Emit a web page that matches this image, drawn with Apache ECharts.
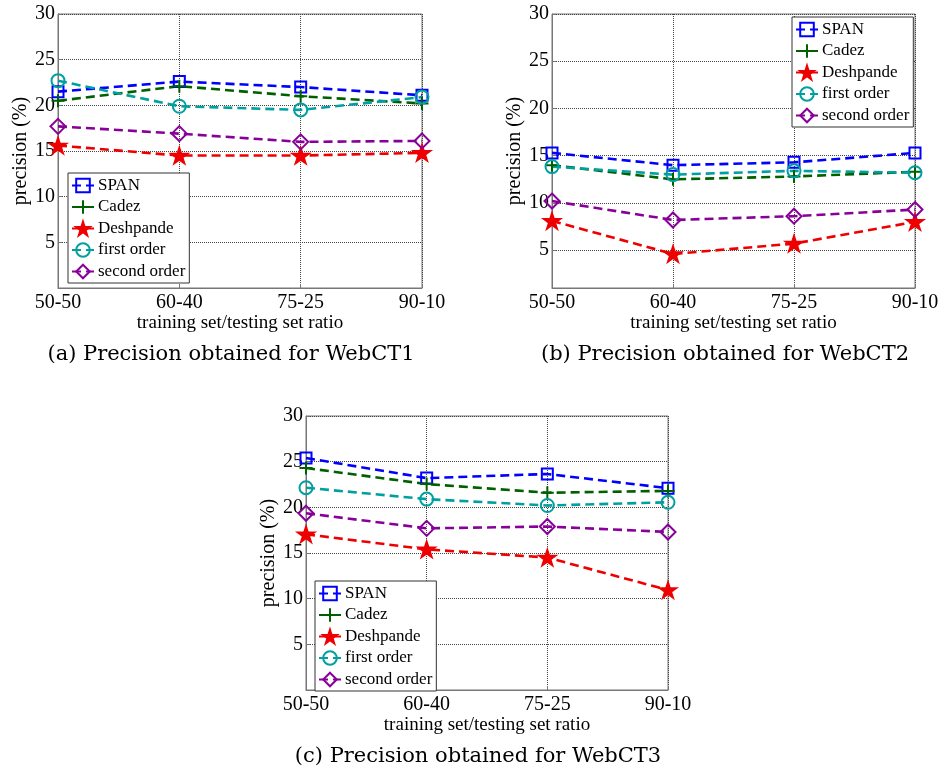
<!DOCTYPE html>
<html>
<head>
<meta charset="utf-8">
<script src="https://cdn.jsdelivr.net/npm/echarts@6.0.0/dist/echarts.min.js"></script>
<style>
  html, body { margin: 0; padding: 0; background: #fff; }
  #main { width: 942px; height: 774px; }
</style>
</head>
<body>
<div id="main"></div>
<script>
(function () {
  let myChart = echarts.init(document.getElementById('main'));

  // 横轴类别
  let categories = ['50-50', '60-40', '75-25', '90-10'];
  let seriesNames = ['SPAN', 'Cadez', 'Deshpande', 'first order', 'second order'];

  // WebCT1
  let ct1Span = [21.5, 22.6, 22.0, 21.1];
  let ct1Cadez = [20.5, 22.1, 21.0, 20.2];
  let ct1Deshpande = [15.6, 14.5, 14.5, 14.8];
  let ct1First = [22.7, 19.9, 19.5, 20.9];
  let ct1Second = [17.7, 16.9, 16.0, 16.1];

  // WebCT2
  let ct2Span = [15.3, 14.0, 14.3, 15.3];
  let ct2Cadez = [14.0, 12.5, 12.8, 13.3];
  let ct2Deshpande = [8.1, 4.6, 5.7, 8.0];
  let ct2First = [13.85, 13.0, 13.4, 13.2];
  let ct2Second = [10.2, 8.2, 8.6, 9.3];

  // WebCT3
  let ct3Span = [25.4, 23.2, 23.65, 22.1];
  let ct3Cadez = [24.3, 22.55, 21.6, 21.8];
  let ct3Deshpande = [17.05, 15.4, 14.5, 10.95];
  let ct3First = [22.15, 20.9, 20.2, 20.55];
  let ct3Second = [19.35, 17.7, 17.9, 17.3];

  let yTicks = [5, 10, 15, 20, 25, 30];

  let panels = [
    { data: [ct1Span, ct1Cadez, ct1Deshpande, ct1First, ct1Second], min: 0,
      grid: { left: 58, top: 14, width: 364, height: 274 }, nameGap: 27,
      legend: { left: 68, top: 173 }, caption: '(a) Precision obtained for WebCT1', cap: [231, 355] },
    { data: [ct2Span, ct2Cadez, ct2Deshpande, ct2First, ct2Second], min: 1,
      grid: { left: 552, top: 14, width: 363, height: 274 }, nameGap: 17,
      legend: { left: 792, top: 17 }, caption: '(b) Precision obtained for WebCT2', cap: [725, 355] },
    { data: [ct3Span, ct3Cadez, ct3Deshpande, ct3First, ct3Second], min: 0,
      grid: { left: 306, top: 416, width: 362, height: 274 }, nameGap: 20,
      legend: { left: 315, top: 581 }, caption: '(c) Precision obtained for WebCT3', cap: [478, 757] }
  ];

  let serif = 'Liberation Serif';
  let starPath = 'path://M50,0L61.23,34.55L97.55,34.55L68.17,55.9L79.39,90.45L50,69.1L20.61,90.45L31.83,55.9L2.45,34.55L38.77,34.55Z';
  let plusPath = 'path://M50,0L50,100M0,50L100,50';

  // 每条线的样式
  let styles = [
    { color: '#0000ff', symbol: 'rect', size: 11, fill: 'rgba(0,0,0,0)' },
    { color: '#006000', symbol: plusPath, size: 13, fill: 'rgba(0,0,0,0)' },
    { color: '#ee0000', symbol: starPath, size: 16, fill: '#ee0000' },
    { color: '#00a0a0', symbol: 'circle', size: 13, fill: 'rgba(0,0,0,0)' },
    { color: '#880099', symbol: 'diamond', size: 15, fill: 'rgba(0,0,0,0)' }
  ];

  let grids = [], xAxes = [], yAxes = [], series = [], legends = [], graphics = [];

  panels.forEach(function (p, gi) {
    grids.push(Object.assign({
      show: true, borderColor: '#777', borderWidth: 1, backgroundColor: '#fff'
    }, p.grid));
    xAxes.push({
      type: 'category', gridIndex: gi, data: categories, boundaryGap: false,
      name: 'training set/testing set ratio', nameLocation: 'middle', nameGap: 25,
      nameTextStyle: { fontFamily: serif, fontSize: 19, color: '#000' },
      axisLine: { lineStyle: { color: '#777' } },
      axisTick: { inside: true, length: 4, lineStyle: { color: '#777' } },
      axisLabel: { fontFamily: serif, fontSize: 20, color: '#000', margin: 5 },
      splitLine: { show: true, lineStyle: { type: 'dotted', color: '#444' } }
    });
    yAxes.push({
      type: 'value', gridIndex: gi, min: p.min, max: 30, interval: 5,
      name: 'precision (%)', nameLocation: 'middle', nameGap: p.nameGap,
      nameTextStyle: { fontFamily: serif, fontSize: 20, color: '#000' },
      axisLine: { show: true, lineStyle: { color: '#777' } },
      axisTick: { show: true, inside: true, length: 4, customValues: yTicks, lineStyle: { color: '#777' } },
      axisLabel: { fontFamily: serif, fontSize: 20, color: '#000', margin: 3, customValues: yTicks },
      splitLine: { show: true, lineStyle: { type: 'dotted', color: '#444' } }
    });
    p.data.forEach(function (vals, si) {
      let s = styles[si];
      series.push({
        name: seriesNames[si], type: 'line', xAxisIndex: gi, yAxisIndex: gi,
        data: vals, symbol: s.symbol, symbolSize: s.size, symbolKeepAspect: true,
        showAllSymbol: true,
        lineStyle: { color: s.color, width: 2.6, type: [9, 5] },
        itemStyle: { color: s.fill, borderColor: s.color, borderWidth: 2 }
      });
    });
    legends.push({
      data: seriesNames, orient: 'vertical', left: p.legend.left, top: p.legend.top,
      itemWidth: 22, itemHeight: 17, itemGap: 4.5,
      backgroundColor: '#fff', borderColor: '#333', borderWidth: 1, borderRadius: 0,
      padding: [4, 4, 3, 3],
      textStyle: { fontFamily: serif, fontSize: 17, color: '#000', padding: [0, 0, 0, -1] }
    });
    graphics.push({
      type: 'text', x: p.cap[0], y: p.cap[1],
      style: { text: p.caption, font: '21px "DejaVu Serif"', fill: '#000',
        textAlign: 'center', textVerticalAlign: 'middle' }
    });
  });

  let option = {
    animation: false,
    backgroundColor: '#fff',
    grid: grids,
    xAxis: xAxes,
    yAxis: yAxes,
    legend: legends,
    series: series,
    graphic: graphics
  };
  myChart.setOption(option);
})();
</script>
</body>
</html>
